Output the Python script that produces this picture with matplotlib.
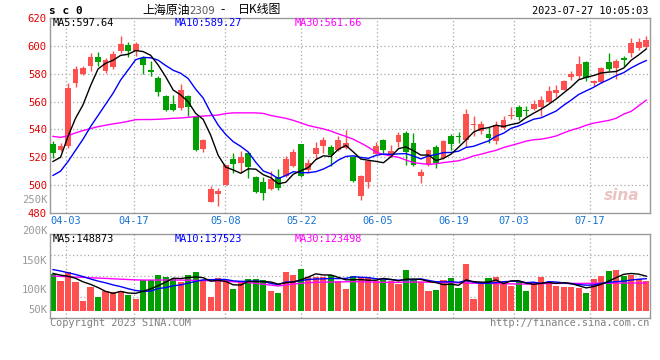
import matplotlib
matplotlib.use("Agg")
import matplotlib.pyplot as plt
import numpy as np
import pandas as pd

# ---------------- data ----------------
dates_lbl = ["04-03", "04-17", "05-08", "05-22", "06-05", "06-19", "07-03", "07-17"]
date_idx = [2, 11, 23, 33, 43, 53, 61, 71]

opens = [529.3, 525.2, 528.1, 573.4, 579.8, 585.2, 591.9, 581.7, 584.5, 596.4,
         600.7, 596.4, 591.2, 582.9, 576.9, 564.3, 558.6, 555.5, 564.3, 549.1,
         525.7, 488.1, 493.6, 500.2, 518.6, 515.7, 523.3, 505.5, 501.9, 497.1,
         505.5, 506.7, 513.8, 529.3, 511.0, 522.1, 528.1, 527.4, 525.2, 526.9,
         520.5, 491.9, 502.4, 522.6, 532.4, 521.4, 531.0, 537.6, 530.0, 506.7,
         514.5, 527.4, 519.8, 535.2, 535.2, 532.4, 542.9, 538.8, 536.4, 531.7,
         541.2, 549.5, 556.2, 554.3, 554.8, 556.2, 559.5, 566.2, 568.6, 577.6,
         578.6, 588.1, 573.3, 573.8, 588.1, 584.0, 591.2, 595.2, 598.3, 599.5]
highs = [531.7, 530.5, 573.4, 585.2, 585.7, 594.8, 595.5, 591.2, 596.0, 607.1,
         602.6, 603.1, 592.9, 588.8, 578.1, 565.0, 565.0, 572.9, 565.0, 549.5,
         532.9, 499.5, 498.3, 514.8, 523.3, 524.5, 523.8, 506.7, 505.5, 510.2,
         511.4, 521.0, 526.2, 529.8, 519.0, 531.0, 534.8, 528.6, 535.2, 539.3,
         521.0, 507.1, 517.9, 531.0, 533.3, 528.6, 538.1, 538.8, 537.6, 511.4,
         526.0, 528.6, 532.4, 536.4, 538.1, 555.0, 549.5, 546.4, 541.9, 546.0,
         550.0, 556.0, 557.2, 557.1, 561.4, 563.8, 571.4, 572.0, 575.2, 581.7,
         592.4, 588.8, 575.7, 584.8, 595.2, 590.5, 592.9, 605.5, 605.5, 607.4]
lows = [519.8, 524.5, 526.9, 570.2, 579.3, 581.7, 585.2, 580.5, 583.3, 594.8,
        591.9, 592.9, 580.0, 578.1, 564.3, 553.1, 553.1, 554.3, 549.8, 524.5,
        524.0, 487.6, 485.2, 500.0, 509.0, 509.0, 504.8, 494.3, 489.3, 496.7,
        496.7, 506.2, 513.3, 505.5, 509.0, 518.6, 522.9, 513.8, 524.5, 525.7,
        502.4, 489.5, 497.6, 522.1, 523.3, 520.5, 527.6, 514.3, 513.8, 501.4,
        513.5, 512.5, 519.0, 525.2, 530.5, 527.4, 535.2, 536.4, 530.5, 529.3,
        540.0, 547.6, 546.7, 550.0, 553.8, 549.5, 559.0, 563.3, 568.1, 575.7,
        576.2, 574.5, 571.0, 573.3, 581.7, 576.2, 585.2, 591.9, 597.1, 598.3]
closes = [523.3, 528.1, 569.8, 583.3, 584.0, 591.9, 588.1, 590.0, 594.3, 601.4,
          596.0, 601.4, 586.4, 581.0, 566.7, 553.8, 553.8, 568.6, 556.2, 525.2,
          532.1, 497.1, 496.0, 514.3, 515.0, 520.2, 513.1, 494.8, 494.3, 504.3,
          498.3, 518.6, 523.8, 506.7, 515.7, 526.9, 532.1, 521.7, 532.1, 530.0,
          503.1, 506.7, 517.4, 528.1, 525.2, 524.5, 535.7, 523.8, 514.3, 509.5,
          525.0, 515.7, 531.7, 529.3, 534.3, 551.4, 543.6, 543.6, 533.6, 542.9,
          546.7, 550.7, 549.0, 553.1, 558.6, 561.4, 567.9, 568.1, 575.0, 580.0,
          587.1, 576.9, 574.5, 584.0, 583.3, 589.3, 589.5, 602.4, 603.1, 604.5]

# moving-average values at the start of the window
ma5_head = [517, 520, 535, 548]
ma10_head = [507, 510, 517, 525, 533, 542, 550, 558, 566]
ma30 = [535.0, 534.3, 535.5, 537.5, 539.2, 540.6, 542.0, 543.0, 544.0, 544.8,
        545.8, 547.0, 547.1, 547.1, 547.3, 547.6, 548.0, 548.2, 548.7, 549.2,
        549.6, 550.0, 550.3, 551.4, 551.9, 551.9, 551.9, 551.9, 551.5, 550.0,
        549.0, 548.0, 546.5, 544.7, 542.8, 541.6, 540.4, 538.8, 536.8, 535.0,
        532.9, 530.2, 527.2, 523.8, 522.0, 521.0, 520.0, 518.0, 516.2, 515.5,
        515.0, 515.3, 516.2, 516.8, 517.5, 519.0, 521.0, 522.2, 523.7, 525.0,
        527.0, 528.5, 530.0, 531.6, 532.6, 533.0, 534.0, 535.3, 537.5, 539.5,
        541.0, 543.0, 544.5, 545.5, 546.5, 548.0, 551.0, 553.0, 557.0, 561.0]

# volume in thousands (K)
volumes = [155.3, 135.2, 162.0, 133.3, 78.7, 118.9, 89.2, 107.4, 104.5, 107.4,
           95.0, 84.5, 138.0, 138.0, 152.4, 147.6, 140.0, 133.3, 152.4, 162.0,
           136.1, 90.2, 144.7, 138.0, 112.2, 133.3, 141.9, 141.9, 138.0, 107.4,
           101.7, 162.0, 152.4, 169.6, 147.6, 147.6, 145.7, 152.4, 135.2, 112.2,
           149.5, 146.7, 143.8, 135.2, 138.0, 135.2, 126.6, 166.8, 138.0, 132.3,
           106.5, 109.3, 138.0, 144.7, 116.0, 184.9, 83.5, 131.3, 143.8, 147.6,
           133.3, 121.8, 135.2, 107.4, 131.3, 147.6, 133.3, 121.8, 118.9, 118.9,
           116.0, 101.7, 140.9, 150.5, 164.8, 166.8, 149.5, 152.4, 140.9, 135.2]
vol_ma5_head = [157, 152, 149, 143]
vol_ma10_head = [168, 164, 159, 154, 148, 141, 135, 130, 124]
vol_ma30 = [149.5, 148.5, 147.5, 146.5, 145.7, 144.5, 143.5, 142.8, 141.5, 140.5,
            139.5, 138.5, 138.0, 138.0, 138.0, 138.0, 138.0, 137.8, 137.5, 137.0,
            136.5, 136.1, 135.5, 134.5, 133.3, 132.0, 130.5, 128.5, 126.0, 123.5,
            120.8, 124.0, 126.6, 128.5, 130.4, 131.5, 132.0, 132.3, 132.5, 133.0,
            133.3, 133.0, 132.5, 132.0, 131.5, 131.3, 131.5, 132.0, 132.3, 132.3,
            132.0, 131.5, 131.0, 130.5, 130.0, 129.5, 129.0, 128.5, 128.4, 128.0,
            127.5, 127.0, 126.5, 126.5, 127.0, 127.5, 128.0, 128.4, 128.4, 128.4,
            128.4, 128.4, 128.5, 128.8, 129.0, 129.2, 129.4, 129.4, 129.4, 129.4]

ma_labels = ["MA5:597.64", "MA10:589.27", "MA30:561.66"]
vol_ma_labels = ["MA5:148873", "MA10:137523", "MA30:123498"]
price_ticks = [480, 500, 520, 540, 560, 580, 600, 620]
vol_tick_lbl = ["200K", "150K", "100K", "50K"]
VOL_BASE = 50.0

# ---------------- styling ----------------
RED = "#ff5050"
GREEN = "#00a000"
GRID = "#a8a8a8"
FRAME = "#9a9a9a"
BLUE_DATE = "#1673d0"
MONO = "DejaVu Sans Mono"
CJK = ["Noto Sans CJK SC", "DejaVu Sans"]

W, H = 660, 360
fig = plt.figure(figsize=(6.6, 3.6), dpi=100)


def fx(px):
    return px / W


def fy(py):
    return 1 - py / H


ax = fig.add_axes([fx(50), fy(213), 600 / W, 195 / H])
axv = fig.add_axes([fx(50), fy(317.7), 600 / W, 83.4 / H])

n = len(closes)
x = np.arange(n)
o = np.array(opens)
c = np.array(closes)
hi = np.array(highs)
lo = np.array(lows)
cols = np.where(c >= o, RED, GREEN)

# moving averages
s = pd.Series(c)
ma5 = s.rolling(5).mean().to_numpy()
ma5[:len(ma5_head)] = ma5_head
ma10 = s.rolling(10).mean().to_numpy()
ma10[:len(ma10_head)] = ma10_head

v = np.array(volumes)
sv = pd.Series(v)
vma5 = sv.rolling(5).mean().to_numpy()
vma5[:len(vol_ma5_head)] = vol_ma5_head
vma10 = sv.rolling(10).mean().to_numpy()
vma10[:len(vol_ma10_head)] = vol_ma10_head

# grid positions (Sina's date grid drifts slightly relative to candles)
gpos = [d * 1.0118 - 0.333 for d in date_idx]

for a in (ax, axv):
    for g in gpos:
        a.axvline(g, color=GRID, lw=0.9, ls=(0, (1, 2)), zorder=0)
    for sp in a.spines.values():
        sp.set_color(FRAME)
        sp.set_linewidth(1.0)
    a.set_xlim(-0.4, 79.5)

for p in price_ticks[1:-1]:
    ax.axhline(p, color=GRID, lw=0.9, ls=(0, (1, 2)), zorder=0)

# candles
ax.vlines(x, lo, hi, colors=cols, lw=1.0, zorder=2)
body_h = np.maximum(np.abs(c - o), 1.0)
ax.bar(x, body_h, bottom=np.minimum(o, c), width=0.78, color=cols, lw=0, zorder=3)

ax.plot(x, ma30, color="#ff00ff", lw=1.0, zorder=4)
ax.plot(x, ma10, color="#0000ff", lw=1.0, zorder=5)
ax.plot(x, ma5, color="black", lw=1.0, zorder=6)

ax.set_ylim(480, 620)
ax.set_yticks(price_ticks)
ax.set_yticklabels([str(p) for p in price_ticks], color="#e00000",
                   fontsize=7.6, family=MONO)
ax.set_xticks(gpos)
ax.set_xticklabels(dates_lbl, color=BLUE_DATE, fontsize=7.4, family=MONO)
ax.tick_params(length=0, pad=2.2)
ax.tick_params(axis="x", pad=2.0)

# volume panel
axv.bar(x, v - VOL_BASE, bottom=VOL_BASE, width=0.82, color=cols, lw=0, zorder=2)
axv.plot(x, vol_ma30, color="#ff00ff", lw=1.0, zorder=4)
axv.plot(x, vma10, color="#0000ff", lw=1.0, zorder=5)
axv.plot(x, vma5, color="black", lw=1.0, zorder=6)
vlo, vhi = 29.9, 269.3
axv.set_ylim(vlo, vhi)
for f in (0.25, 0.5, 0.75):
    axv.axhline(vlo + f * (vhi - vlo), color=GRID, lw=0.9, ls=(0, (1, 2)), zorder=0)
axv.set_xticks([])
axv.set_yticks([])

# labels on the volume axis (placed as in the reference)
for lbl, py in zip(vol_tick_lbl, [231, 260.7, 290, 310]):
    fig.text(fx(47.5), fy(py), lbl, ha="right", va="center", color="#999999",
             fontsize=7.6, family=MONO)
fig.text(fx(47.5), fy(200), "250K", ha="right", va="center", color="#999999",
         fontsize=7.6, family=MONO)

# MA legends
ma_cols = ["black", "#0000ff", "#ff00ff"]
for lbl, col, px in zip(ma_labels, ma_cols, [53, 175, 295]):
    fig.text(fx(px), fy(23.5), lbl, ha="left", va="center", color=col,
             fontsize=7.4, family=MONO)
for lbl, col, px in zip(vol_ma_labels, ma_cols, [53, 175, 295]):
    fig.text(fx(px), fy(238.5), lbl, ha="left", va="center", color=col,
             fontsize=7.4, family=MONO)

# header
fig.text(fx(49), fy(11.5), "s c 0", ha="left", va="center", color="black",
         fontsize=8, family=MONO, weight="bold")
fig.text(fx(142), fy(10), "上海原油", ha="left", va="center", color="black",
         fontsize=8.6, family=CJK)
fig.text(fx(189), fy(10.5), "2309", ha="left", va="center", color="#555555",
         fontsize=7.4, family="DejaVu Sans")
fig.text(fx(223), fy(10), "-", ha="center", va="center", color="black",
         fontsize=8.6, family="DejaVu Sans")
fig.text(fx(238), fy(10), "日K线图", ha="left", va="center", color="black",
         fontsize=8.6, family=CJK)
fig.text(fx(648.5), fy(11), "2023-07-27 10:05:03", ha="right", va="center",
         color="black", fontsize=7.4, family=MONO)

# footer
fig.text(fx(50), fy(323.5), "Copyright 2023 SINA.COM", ha="left", va="center",
         color="#808080", fontsize=7.4, family=MONO)
fig.text(fx(649), fy(323.5), "http://finance.sina.com.cn", ha="right",
         va="center", color="#808080", fontsize=7.4, family=MONO)

# watermark
fig.text(fx(622), fy(196), "sina", ha="center", va="center", color="#e6b4b4",
         fontsize=11, style="italic", weight="bold", family="DejaVu Sans", alpha=0.8)

fig.savefig("out.png", dpi=100, facecolor="white")
